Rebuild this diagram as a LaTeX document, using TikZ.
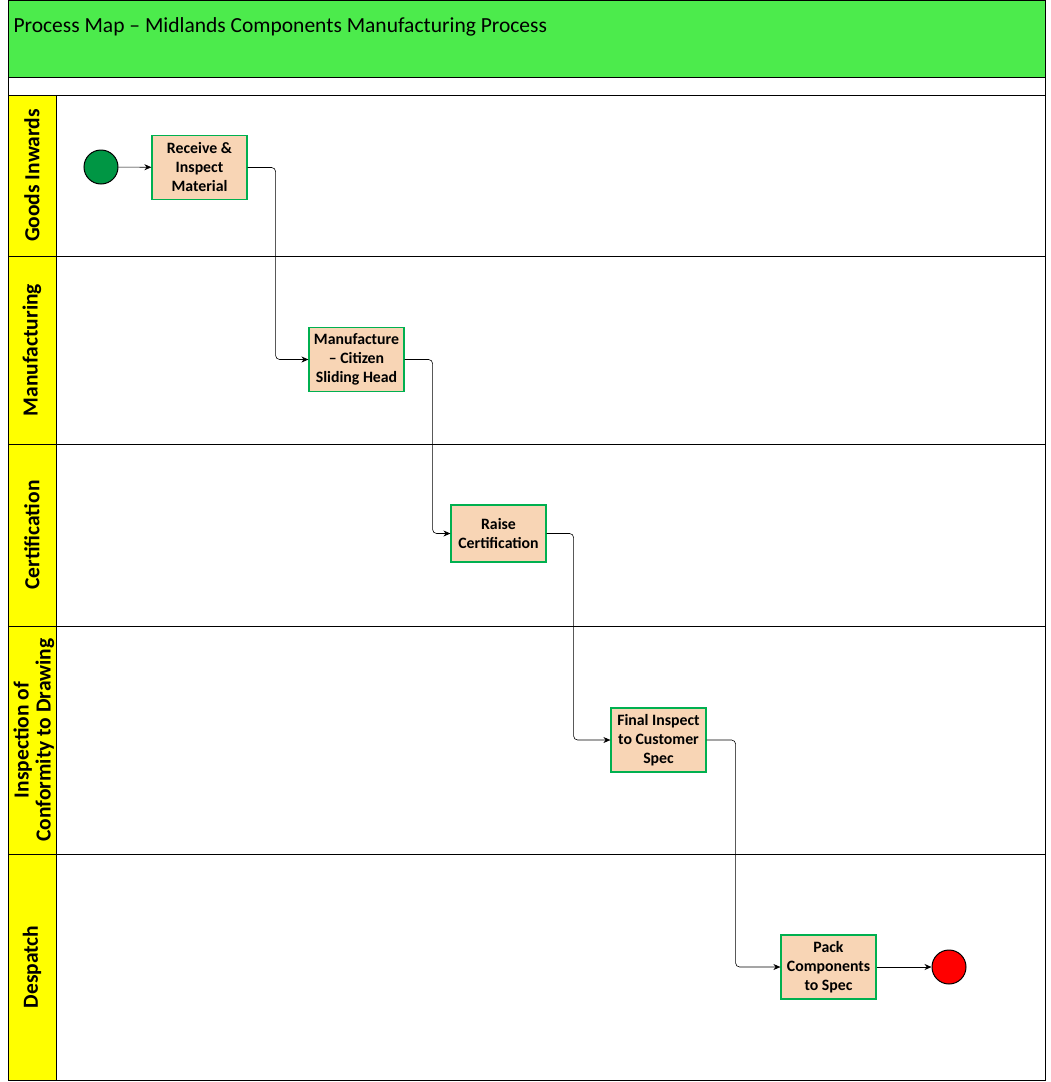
\documentclass[tikz,border=0pt]{standalone}
\usepackage{fontspec}
\setmainfont{Carlito}
\usetikzlibrary{arrows.meta}
\definecolor{hdr}{HTML}{4CEB4C}
\definecolor{lane}{HTML}{FFFF00}
\definecolor{peach}{HTML}{F8D5B5}
\definecolor{bord}{HTML}{00B050}
\tikzset{
 proc/.style={draw=bord,line width=1.2pt,fill=peach,minimum width=95pt,minimum height=64pt,align=center,font=\fontsize{15.8}{19}\selectfont\bfseries,inner sep=1pt},
 lanelab/.style={rotate=90,align=center,font=\fontsize{21.5}{24}\selectfont\bfseries},
 conn/.style={-{Stealth[length=7pt,width=6pt]},rounded corners=4pt,line width=0.6pt},
 box/.style={draw,line width=0.8pt}
}
\begin{document}
\begin{tikzpicture}[x=1pt,y=-1pt]
\useasboundingbox (0,0) rectangle (1051,1082);
\draw[box,fill=hdr] (8,0) rectangle (1045,77);
\node[anchor=west,font=\fontsize{21.5}{24}\selectfont] (title) at (10,27) {Process Map -- Midlands Components Manufacturing Process};
\draw[box] (8,77) rectangle (1045,95);
\foreach \a/\b in {95/256,256/444,444/626,626/854,854/1080}{
  \draw[box] (8,\a) rectangle (1045,\b);
  \draw[box,fill=lane] (8,\a) rectangle (56,\b);
}
\node[lanelab] (l1) at (32,175.5) {Goods Inwards};
\node[lanelab] (l2) at (32,350) {Manufacturing};
\node[lanelab] (l3) at (32,535) {Certification};
\node[lanelab,font=\fontsize{21.5}{22}\selectfont\bfseries] (l4) at (34,740) {Inspection of\\Conformity to Drawing};
\node[lanelab] (l5) at (32,967) {Despatch};
\node[circle,draw,line width=1pt,fill=bord!85!black,minimum size=34pt] (start) at (101,167) {};
\node[circle,draw,line width=1pt,fill=red,minimum size=34pt] (end) at (949,967) {};
\node[proc] (n1) at (199.5,167.5) {Receive \&\\Inspect\\Material};
\node[proc] (n2) at (356.5,359.5) {Manufacture\\-- Citizen\\Sliding Head};
\node[proc,minimum height=57pt] (n3) at (498.5,533.5) {Raise\\Certification};
\node[proc] (n4) at (658.5,740) {Final Inspect\\to Customer\\Spec};
\node[proc] (n5) at (828.5,967) {Pack\\Components\\to Spec};
\draw[conn] (start) -- (n1);
\draw[conn] (n1.east) -- ++(28,0) |- (n2.west);
\draw[conn] (n2.east) -- ++(28,0) |- (n3.west);
\draw[conn] (n3.east) -- ++(27,0) |- (n4.west);
\draw[conn] (n4.east) -- ++(29,0) |- (n5.west);
\draw[conn] (n5) -- (end);
\end{tikzpicture}
\end{document}
